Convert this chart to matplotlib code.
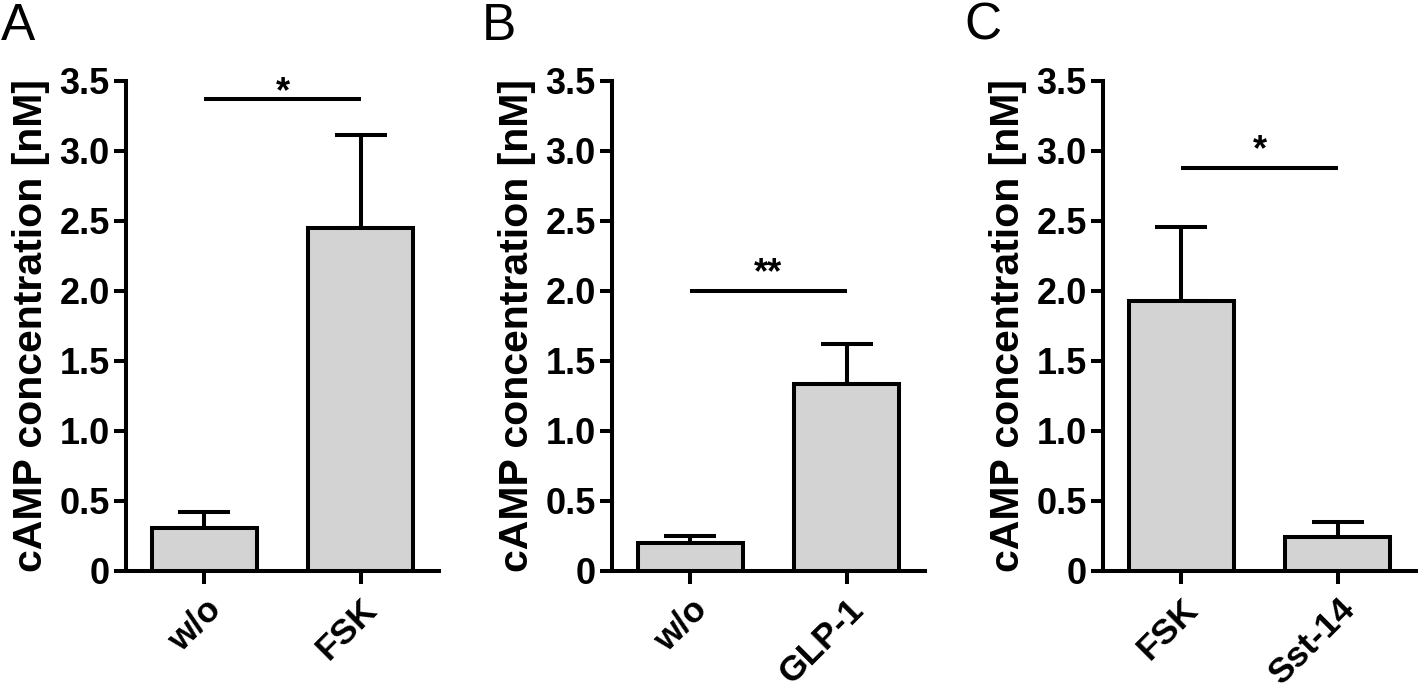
import matplotlib
matplotlib.use("Agg")
import matplotlib.pyplot as plt
from matplotlib.ticker import FuncFormatter
from matplotlib.transforms import ScaledTranslation

plt.rcParams['font.family'] = ['Liberation Sans', 'DejaVu Sans']

panel_letters = ["A", "B", "C"]
categories_A = ["w/o", "FSK"]
means_A = [0.31, 2.45]
errors_A = [0.115, 0.665]
sig_A = 3.37
star_A = "*"

categories_B = ["w/o", "GLP-1"]
means_B = [0.20, 1.335]
errors_B = [0.05, 0.285]
sig_B = 2.0
star_B = "**"

categories_C = ["FSK", "Sst-14"]
means_C = [1.93, 0.245]
errors_C = [0.53, 0.105]
sig_C = 2.88
star_C = "*"

y_ticks = [0, 0.5, 1.0, 1.5, 2.0, 2.5, 3.0, 3.5]
y_label = "cAMP concentration [nM]"

W, H = 1418, 693
fig = plt.figure(figsize=(W / 100, H / 100), dpi=100)

panels = [
    (categories_A, means_A, errors_A, sig_A, star_A, 126, -0.075),
    (categories_B, means_B, errors_B, sig_B, star_B, 612, 0.0),
    (categories_C, means_C, errors_C, sig_C, star_C, 1103, 0.0),
]
letter_x = [1, 482, 964]

LW = 2.9
FS = 25.5
ax_w = 313
ax_bottom = 571
ax_top = 81

for i, (cats, means, errs, sig, star, left, off) in enumerate(panels):
    ax = fig.add_axes([left / W, 1 - ax_bottom / H, ax_w / W, (ax_bottom - ax_top) / H])
    x = list(range(len(cats)))
    ax.bar(x, means, width=0.67, color="#d3d3d3", edgecolor="black",
           linewidth=LW, zorder=3)
    ax.errorbar(x, means, yerr=[[0] * len(errs), errs], fmt="none",
                ecolor="black", elinewidth=LW, capsize=18.4, capthick=LW, zorder=2)
    ax.set_xlim(-0.5, 1.5)
    ax.set_ylim(0, 3.5)
    ax.set_yticks(y_ticks)
    ax.yaxis.set_major_formatter(FuncFormatter(lambda v, p: "0" if v == 0 else f"{v:.1f}"))
    ax.set_xticks(x)
    ax.set_xticklabels(cats, rotation=45, ha="right", rotation_mode="anchor",
                       fontsize=FS, fontweight="bold")
    shift = ScaledTranslation(4 / 100, 0, fig.dpi_scale_trans)
    for lab in ax.get_xticklabels():
        lab.set_transform(lab.get_transform() + shift)
    for lab in ax.get_yticklabels():
        lab.set_fontsize(26)
        lab.set_fontweight("bold")
    ax.spines["top"].set_visible(False)
    ax.spines["right"].set_visible(False)
    for s in ("left", "bottom"):
        ax.spines[s].set_linewidth(LW)
    ax.tick_params(axis="y", length=8.6, width=LW, pad=3)
    ax.tick_params(axis="x", length=9.5, width=LW, pad=6)
    ax.set_ylabel(y_label, fontsize=29.5, fontweight="bold", labelpad=7)
    # significance bar
    ax.plot([0, 1], [sig, sig], color="black", linewidth=LW, clip_on=False,
            solid_capstyle="butt")
    ax.text(0.5, sig + off, star, ha="center", va="bottom", fontsize=26,
            fontweight="bold", clip_on=False)
    fig.text(letter_x[i] / W, 1 - 2 / H, panel_letters[i], fontsize=37,
             ha="left", va="top")

fig.savefig("out.png", dpi=100)
